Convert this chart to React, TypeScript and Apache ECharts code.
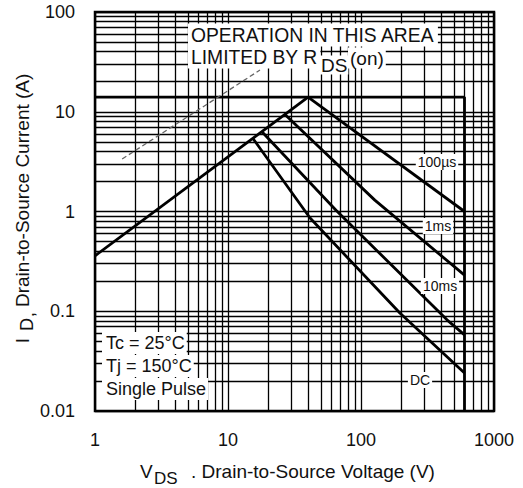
import React, { useEffect, useRef } from 'react';
import * as echarts from 'echarts';

// ---- data ----
const xTickLabels = ['1', '10', '100', '1000'];
const yTickLabels = ['0.01', '0.1', '1', '10', '100'];
const xMinorGrid = [2, 3, 4, 5, 6, 7, 8, 9, 20, 30, 40, 50, 60, 70, 80, 90, 200, 300, 400, 500, 600, 700, 800, 900];
const yMinorGrid = [
  0.02, 0.03, 0.04, 0.05, 0.06, 0.07, 0.08, 0.09,
  0.2, 0.3, 0.4, 0.5, 0.6, 0.7, 0.8, 0.9,
  2, 3, 4, 5, 6, 7, 8, 9,
  20, 30, 40, 50, 60, 70, 80, 90,
];

const rdsLimit = [[1, 0.36], [40, 14]];
const currentLimit = [[1, 14], [600, 14], [600, 0.01]];
const pulse100us = [[40, 14], [600, 1.0]];
const pulse1ms = [[26.8, 9.4], [127, 1.3], [600, 0.23]];
const pulse10ms = [[18, 6.3], [64.9, 1.03], [443, 0.082], [600, 0.058]];
const dcLine = [[15.4, 5.4], [41.4, 0.86], [196, 0.096], [600, 0.024]];
const rdsPointer = [[1.6, 3.36], [17.4, 26.2]];

const FONT = '"Liberation Sans", Arial, Helvetica, sans-serif';
const INK = '#111';

function txt(text: string, x: number, y: number, size: number, opts: any = {}) {
  return {
    type: 'text',
    x,
    y,
    z: 100,
    silent: true,
    style: {
      text,
      fontSize: size,
      fontFamily: FONT,
      fill: INK,
      align: opts.align || 'left',
      verticalAlign: 'middle',
      backgroundColor: opts.bg ? '#fff' : undefined,
      padding: opts.bg ? opts.pad || [1, 2] : undefined,
    },
  };
}

export default function App() {
  const ref = useRef<HTMLDivElement>(null);
  useEffect(() => {
    if (!ref.current) return;
    const chart = echarts.init(ref.current, null, { renderer: 'svg' });
    const curve = (data: number[][], name: string, width = 2.8) => ({
      type: 'line',
      name,
      data,
      symbol: 'none',
      z: 5,
      silent: true,
      lineStyle: { color: '#000', width },
    });
    const option: any = {
      animation: false,
      backgroundColor: '#fff',
      grid: {
        left: 95,
        top: 12,
        right: 29,
        bottom: 77,
        show: true,
        borderColor: '#000',
        borderWidth: 2.5,
      },
      xAxis: {
        type: 'log',
        logBase: 10,
        min: 1,
        max: 1000,
        axisLine: { show: false },
        axisTick: { show: false },
        splitLine: { show: true, lineStyle: { color: '#000', width: 1.3 } },
        axisLabel: {
          margin: 20,
          fontSize: 18,
          fontFamily: FONT,
          color: INK,
          formatter: (v: number) => xTickLabels[Math.round(Math.log10(v))],
        },
      },
      yAxis: {
        type: 'log',
        logBase: 10,
        min: 0.01,
        max: 100,
        axisLine: { show: false },
        axisTick: { show: false },
        splitLine: { show: true, lineStyle: { color: '#000', width: 1.3 } },
        axisLabel: {
          margin: 20,
          fontSize: 18,
          fontFamily: FONT,
          color: INK,
          formatter: (v: number) => yTickLabels[Math.round(Math.log10(v)) + 2],
        },
      },
      series: [
        {
          type: 'line',
          name: 'grid',
          data: [[1, 0.01]],
          symbol: 'none',
          lineStyle: { width: 0 },
          z: 1,
          silent: true,
          markLine: {
            silent: true,
            symbol: ['none', 'none'],
            label: { show: false },
            lineStyle: { color: '#000', width: 1.3, type: 'solid' },
            emphasis: { disabled: true },
            data: [
              ...xMinorGrid.map((v) => ({ xAxis: v })),
              ...yMinorGrid.map((v) => ({ yAxis: v })),
            ],
          },
        },
        curve(currentLimit, 'limit', 2.8),
        curve(rdsLimit, 'rds'),
        curve(pulse100us, '100us'),
        curve(pulse1ms, '1ms'),
        curve(pulse10ms, '10ms'),
        curve(dcLine, 'DC'),
        {
          type: 'line',
          name: 'pointer',
          data: rdsPointer,
          symbol: 'none',
          z: 6,
          silent: true,
          lineStyle: { color: '#666', width: 1.3, type: [5, 3] },
        },
      ],
      graphic: [
        txt('OPERATION IN THIS AREA', 188, 35, 19.3, { bg: true, pad: [2, 3, 2, 3] }),
        txt('LIMITED BY R', 188, 57, 19.3, { bg: true, pad: [2, 3, 2, 3] }),
        txt('DS', 320, 65, 19, { bg: true, pad: [0, 1] }),
        txt('(on)', 348, 58, 19, { bg: true, pad: [1, 2] }),
        txt('Tc = 25°C', 102, 343, 18, { bg: true, pad: [2, 2, 2, 4] }),
        txt('Tj = 150°C', 102, 366, 18, { bg: true, pad: [2, 2, 2, 4] }),
        txt('Single Pulse', 102, 389, 18, { bg: true, pad: [2, 2, 2, 4] }),
        txt('100µs', 437, 162, 14, { bg: true, align: 'center', pad: [1, 2] }),
        txt('1ms', 438, 226, 14, { bg: true, align: 'center', pad: [1, 2] }),
        txt('10ms', 440, 286, 14, { bg: true, align: 'center', pad: [1, 2] }),
        txt('DC', 420, 380, 14, { bg: true, align: 'center', pad: [1, 2] }),
        // x axis name
        txt('V', 140, 471, 19),
        txt('DS', 154, 478, 17),
        txt('. Drain-to-Source Voltage (V)', 191, 471, 19),
        // y axis name (rotated)
        {
          type: 'group',
          x: 22,
          y: 307,
          rotation: Math.PI / 2,
          silent: true,
          children: [
            { type: 'text', x: 0, y: 0, style: { text: 'Drain-to-Source Current (A)', fontSize: 19, fontFamily: FONT, fill: INK, align: 'left', verticalAlign: 'middle' } },
            { type: 'text', x: -5, y: 5, style: { text: ',', fontSize: 19, fontFamily: FONT, fill: INK, align: 'right', verticalAlign: 'middle' } },
            { type: 'text', x: -11, y: 5, style: { text: 'D', fontSize: 18, fontFamily: FONT, fill: INK, align: 'right', verticalAlign: 'middle' } },
            { type: 'text', x: -31, y: 0, style: { text: 'I', fontSize: 19, fontFamily: FONT, fill: INK, align: 'right', verticalAlign: 'middle' } },
          ],
        },
      ],
    };
    chart.setOption(option);
    return () => chart.dispose();
  }, []);
  return (
    <div
      ref={ref}
      style={{ position: 'absolute', left: 0, top: 0, width: 523, height: 488, background: '#fff' }}
    />
  );
}
